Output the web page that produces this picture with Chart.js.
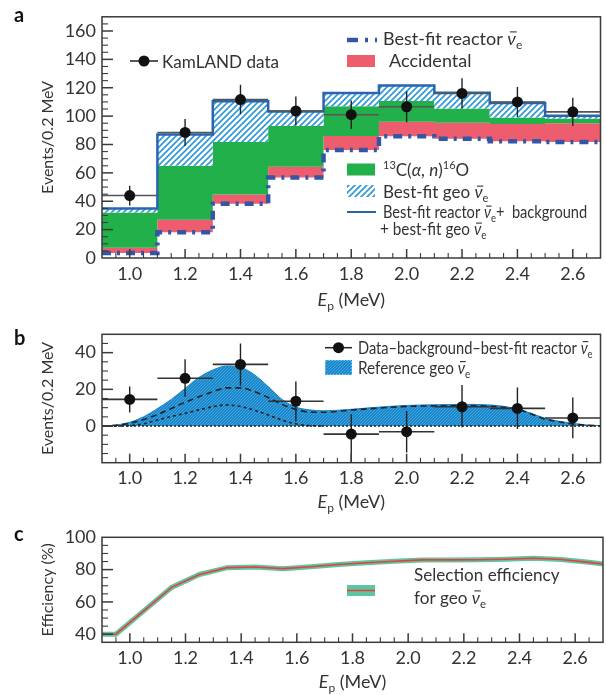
<!DOCTYPE html>
<html><head><meta charset="utf-8">
<script src="https://cdn.jsdelivr.net/npm/chart.js@4.4.1/dist/chart.umd.min.js"></script>
<style>
html,body{margin:0;padding:0;background:#fff;}
canvas{position:absolute;left:0;}
</style></head><body>
<canvas id="ca" width="606" height="318" style="top:0px"></canvas>
<canvas id="cb" width="606" height="210" style="top:310px"></canvas>
<canvas id="cc" width="606" height="175" style="top:520px"></canvas>
<script>
// ---------------- data ----------------
const X_MIN = 0.9, X_MAX = 2.7;
const xTickVals = [1.0, 1.2, 1.4, 1.6, 1.8, 2.0, 2.2, 2.4, 2.6];
const yTicksA = [0, 20, 40, 60, 80, 100, 120, 140, 160];
const yTicksB = [0, 20, 40];
const yTicksC = [40, 60, 80, 100];

// panel a: histogram bin edges and cumulative stacked levels per bin
const binEdges = [0.9, 1.1, 1.3, 1.5, 1.7, 1.9, 2.1, 2.3, 2.5, 2.7];
const reactorTop = [3.5, 18.2, 38.3, 56.8, 76.2, 85.8, 84.0, 82.2, 81.7];
const accidentalTop = [7.2, 27.0, 44.8, 64.4, 86.0, 96.0, 95.3, 94.4, 94.9];
const c13Top = [32.0, 65.0, 81.7, 93.0, 107.0, 110.6, 105.4, 99.0, 98.3];
const geoTop = [34.8, 87.0, 110.5, 103.2, 116.3, 121.5, 116.5, 109.3, 100.2];

const dataE = [1.0, 1.2, 1.4, 1.6, 1.8, 2.0, 2.2, 2.4, 2.6];
const dataEHalf = 0.1;
const kamlandData = [44, 88.5, 111.7, 103.6, 101, 106.6, 116, 110, 103];
const kamlandErr = [7, 9.5, 10.4, 10.3, 10, 11, 10.7, 10.6, 10];

// panel b
const residual = [14.5, 26, 33.6, 13.5, -4.4, -3.1, 10.5, 9.6, 4.4];
const residualErrHi = [7, 10.4, 11.4, 10.7, 10.8, 11.3, 11.9, 11.4, 11.1];
const residualErrLo = [7.2, 10, 11.6, 11.1, 16, 11.4, 11.2, 11.2, 11.1];
const geoCurveE = [0.9, 0.95, 1.0, 1.05, 1.1, 1.15, 1.2, 1.25, 1.3, 1.35, 1.4, 1.45, 1.5, 1.55, 1.6, 1.65, 1.7, 1.8, 1.9, 2.0, 2.1, 2.2, 2.3, 2.4, 2.45, 2.5, 2.55, 2.6, 2.65, 2.7];
const geoTotalCurve = [0, 0.5, 2, 5, 9.5, 14.5, 20.5, 26.5, 30.5, 32.7, 32, 28, 21.5, 14.5, 10.3, 8.8, 8.3, 9.1, 10.3, 11.2, 11.6, 11.8, 11.5, 9.3, 6.9, 4.2, 2.6, 1.5, 0.6, 0.2];
const geoUCurve = [0, 0.4, 1.5, 3.5, 6.2, 9.5, 12.9, 16, 18.7, 20.8, 20.8, 18.8, 15.5, 11.8, 9, 7.6, 7.5, 8.7, 9.8, 10.7, 11, 11.1, 10.8, 9.1, 6.6, 3.8, 2.3, 1.1, 0.4, 0.1];
const thCurveE = [0.9, 0.95, 1.0, 1.05, 1.1, 1.15, 1.2, 1.25, 1.3, 1.35, 1.4, 1.45, 1.5, 1.55, 1.6, 1.65, 1.7];
const geoThCurve = [0, 0, 0.2, 1.2, 3.3, 5.2, 6.9, 8.8, 10.5, 11.5, 10.6, 8.6, 6, 3.2, 1.2, 0.2, 0];

// panel c
const effE = [0.9, 0.95, 1.05, 1.15, 1.25, 1.35, 1.45, 1.55, 1.65, 1.75, 1.85, 1.95, 2.05, 2.15, 2.25, 2.35, 2.45, 2.55, 2.65, 2.7];
const effVals = [40, 40, 54.5, 69, 77, 81.2, 81.6, 80.6, 81.8, 83.2, 84.2, 85.2, 86, 86, 86.1, 86.4, 87, 86.3, 84.5, 83.5];

// ---------------- styling helpers ----------------
const FONT = "Lato, 'Open Sans', 'DejaVu Sans', sans-serif";
const TXT = '#333333';
const C_RED = '#ee5d6e', C_GREEN = '#22b04b', C_REACT = '#3555a5', C_TOTAL = '#2a64b0';
const C_TEAL = '#5ec4a2', C_EFFRED = '#e8413a';

function makeHatch() {
  const c = document.createElement('canvas'); c.width = 6; c.height = 6;
  const g = c.getContext('2d');
  g.fillStyle = '#ffffff'; g.fillRect(0, 0, 6, 6);
  g.strokeStyle = '#2b98d9'; g.lineWidth = 1.6;
  g.beginPath();
  g.moveTo(-1, 7); g.lineTo(7, -1);
  g.moveTo(-1, 1); g.lineTo(1, -1);
  g.moveTo(5, 7); g.lineTo(7, 5);
  g.stroke();
  return g.createPattern(c, 'repeat');
}
function makeStipple() {
  const c = document.createElement('canvas'); c.width = 3; c.height = 3;
  const g = c.getContext('2d');
  g.fillStyle = '#1887cc'; g.fillRect(0, 0, 3, 3);
  g.fillStyle = '#45a3dc'; g.fillRect(0, 0, 1, 1); g.fillRect(2, 1, 1, 1); g.fillRect(1, 2, 1, 1);
  return g.createPattern(c, 'repeat');
}
const HATCH = makeHatch();
const STIPPLE = makeStipple();

const NU = [{t: 'ν', i: 1, bar: 1}, {t: 'e', sub: 1}];
const T = s => ({t: s});

function rich(ctx, segs, x, y, size, align, sx) {
  sx = sx || 1;
  const f = s => `${s.b ? 'bold ' : ''}${s.i ? 'italic ' : ''}${(s.sub || s.sup) ? Math.round(size * 0.66) : size}px ${FONT}`;
  let w = 0;
  const ws = segs.map(s => { ctx.font = f(s); const m = ctx.measureText(s.t).width; w += m; return m; });
  ctx.save();
  ctx.translate(align === 'center' ? x - w * sx / 2 : x, 0);
  ctx.scale(sx, 1);
  let cx = 0;
  ctx.textAlign = 'left'; ctx.textBaseline = 'alphabetic'; ctx.fillStyle = TXT;
  segs.forEach((s, i) => {
    ctx.font = f(s);
    const dy = s.sub ? size * 0.24 : s.sup ? -size * 0.36 : 0;
    ctx.fillText(s.t, cx, y + dy);
    if (s.bar) {
      ctx.strokeStyle = TXT; ctx.lineWidth = 1.1;
      ctx.beginPath(); ctx.moveTo(cx + ws[i] * 0.3, y - size * 0.7); ctx.lineTo(cx + ws[i] * 1.1, y - size * 0.7); ctx.stroke();
    }
    cx += ws[i];
  });
  ctx.restore();
}

function stepData(vals) {
  return binEdges.map((e, i) => ({x: e, y: vals[Math.min(i, vals.length - 1)]}));
}
function xy(xs, ys) { return xs.map((x, i) => ({x, y: ys[i]})); }

function makeDeco(cfg) {
  const drawErrors = chart => {
    const e = cfg.errors; const ctx = chart.ctx, xs = chart.scales.x, ys = chart.scales.y, a = chart.chartArea;
    ctx.save();
    ctx.beginPath(); ctx.rect(a.left, a.top, a.right - a.left, a.bottom - a.top); ctx.clip();
    e.x.forEach((xv, i) => {
      const px = xs.getPixelForValue(xv), py = ys.getPixelForValue(e.y[i]);
      ctx.strokeStyle = e.hColor; ctx.lineWidth = 1.6;
      ctx.beginPath(); ctx.moveTo(xs.getPixelForValue(xv - e.xh), py); ctx.lineTo(xs.getPixelForValue(xv + e.xh), py); ctx.stroke();
      ctx.strokeStyle = e.vColor; ctx.lineWidth = 1.4;
      ctx.beginPath(); ctx.moveTo(px, ys.getPixelForValue(e.y[i] + e.hi[i])); ctx.lineTo(px, ys.getPixelForValue(e.y[i] - e.lo[i])); ctx.stroke();
    });
    ctx.restore();
  };
  return {
    id: 'deco',
    beforeDatasetDraw(chart, args) {
      if (cfg.errors && args.index === cfg.errors.ds) drawErrors(chart);
    },
    afterDraw(chart) {
      const ctx = chart.ctx, xs = chart.scales.x, ys = chart.scales.y, a = chart.chartArea;
      const oy = cfg.offY;
      ctx.save();
      ctx.strokeStyle = '#3a3a3a'; ctx.lineWidth = 1.5;
      ctx.strokeRect(a.left, a.top, a.right - a.left, a.bottom - a.top);
      const t = cfg.ticks;
      for (let k = Math.ceil(ys.min / t.yMinor - 1e-9); k * t.yMinor <= ys.max + 1e-9; k++) {
        const v = k * t.yMinor;
        const major = Math.abs(v / t.yMajor - Math.round(v / t.yMajor)) < 1e-6;
        const py = ys.getPixelForValue(v);
        if (py <= a.top + 1 || py >= a.bottom - 1) continue;
        ctx.lineWidth = major ? 1.5 : 1.1;
        ctx.beginPath(); ctx.moveTo(a.left, py); ctx.lineTo(a.left + (major ? 11 : 6), py); ctx.stroke();
      }
      for (let k = Math.ceil(xs.min / t.xMinor - 1e-9); k * t.xMinor <= xs.max + 1e-9; k++) {
        const v = k * t.xMinor;
        const major = Math.abs(v / t.xMajor - Math.round(v / t.xMajor)) < 1e-6;
        const px = xs.getPixelForValue(v);
        if (px <= a.left + 1 || px >= a.right - 1) continue;
        ctx.lineWidth = major ? 1.5 : 1.1;
        ctx.beginPath(); ctx.moveTo(px, a.bottom); ctx.lineTo(px, a.bottom - (major ? 9 : 5)); ctx.stroke();
      }
      ctx.fillStyle = '#111'; ctx.font = `bold 20px ${FONT}`; ctx.textAlign = 'left'; ctx.textBaseline = 'alphabetic';
      ctx.fillText(cfg.letter.t, cfg.letter.x, cfg.letter.y - oy);
      rich(ctx, cfg.xTitle.segs, (a.left + a.right) / 2, cfg.xTitle.y - oy, 18, 'center');
      (cfg.legend || []).forEach(it => {
        const y = it.y - oy;
        if (it.kind === 'text') { rich(ctx, it.segs, it.x, y, it.size, 'left', it.sx); }
        else if (it.kind === 'pointline') {
          ctx.strokeStyle = '#222'; ctx.lineWidth = 1.5; ctx.setLineDash([]);
          ctx.beginPath(); ctx.moveTo(it.x1, y); ctx.lineTo(it.x2, y); ctx.stroke();
          ctx.fillStyle = '#111'; ctx.beginPath(); ctx.arc(it.dx, y, 5.5, 0, Math.PI * 2); ctx.fill();
        } else if (it.kind === 'line') {
          ctx.strokeStyle = it.color; ctx.lineWidth = it.width; ctx.setLineDash(it.dash || []);
          ctx.beginPath(); ctx.moveTo(it.x1, y); ctx.lineTo(it.x2, y); ctx.stroke(); ctx.setLineDash([]);
        } else if (it.kind === 'box') {
          ctx.fillStyle = it.fill; ctx.fillRect(it.x, y, it.w, it.h);
          if (it.border) { ctx.strokeStyle = it.border; ctx.lineWidth = 1; ctx.setLineDash([1.5, 1.5]); ctx.strokeRect(it.x + 0.5, y + 0.5, it.w - 1, it.h - 1); ctx.setLineDash([]); }
          if (it.mid) { ctx.strokeStyle = it.mid; ctx.lineWidth = 1.5; ctx.beginPath(); ctx.moveTo(it.x, y + it.h / 2); ctx.lineTo(it.x + it.w, y + it.h / 2); ctx.stroke(); }
        }
      });
      ctx.restore();
    }
  };
}

function axes(cfg) {
  return {
    x: {
      type: 'linear', min: X_MIN, max: X_MAX,
      grid: {display: false, drawTicks: false}, border: {display: false},
      ticks: {padding: 5, color: TXT, font: {family: FONT, size: 18}, maxRotation: 0, autoSkip: false,
        callback: v => Number(v).toFixed(1)},
      afterBuildTicks: s => { s.ticks = xTickVals.map(v => ({value: v})); },
      afterFit: s => { s.height = cfg.xh; }
    },
    y: {
      type: 'linear', min: cfg.ymin, max: cfg.ymax,
      grid: {display: false, drawTicks: false}, border: {display: false},
      ticks: {padding: 6, color: TXT, font: {family: FONT, size: 18}, autoSkip: false,
        callback: v => String(v)},
      afterBuildTicks: s => { s.ticks = cfg.yticks.map(v => ({value: v})); },
      afterFit: s => { s.width = 102; },
      title: {display: true, text: cfg.ytitle, color: TXT, font: {family: FONT, size: 16}, padding: {top: 38, bottom: 0}}
    }
  };
}

const baseOpts = (padTop, scales) => ({
  responsive: false, maintainAspectRatio: false, animation: false,
  layout: {padding: {top: padTop, right: 3, left: 0, bottom: 0}},
  plugins: {legend: {display: false}, tooltip: {enabled: false}},
  scales
});

const XTITLE = [{t: 'E', i: 1}, {t: 'p', sub: 1}, T(' (MeV)')];

// ---------------- panel a ----------------
new Chart(document.getElementById('ca'), {
  type: 'line',
  data: {datasets: [
    {data: stepData(reactorTop), stepped: 'before', borderColor: C_REACT, borderWidth: 4.5, borderDash: [9, 6, 3, 6], pointRadius: 0, fill: false, order: 1},
    {data: stepData(accidentalTop), stepped: 'before', borderColor: 'rgba(0,0,0,0)', borderWidth: 1, backgroundColor: C_RED, pointRadius: 0, fill: '-1', order: 4},
    {data: stepData(c13Top), stepped: 'before', borderColor: 'rgba(0,0,0,0)', borderWidth: 1, backgroundColor: C_GREEN, pointRadius: 0, fill: '-1', order: 3},
    {data: stepData(geoTop), stepped: 'before', borderColor: C_TOTAL, borderWidth: 2.5, backgroundColor: HATCH, pointRadius: 0, fill: '-1', order: 2},
    {data: xy(dataE, kamlandData), showLine: false, pointRadius: 5.5, pointBackgroundColor: '#111', pointBorderWidth: 0, order: 0}
  ]},
  options: baseOpts(13, axes({xh: 60, ymin: 0, ymax: 170, yticks: yTicksA, ytitle: 'Events/0.2 MeV'})),
  plugins: [makeDeco({
    offY: 0,
    ticks: {yMinor: 5, yMajor: 20, xMinor: 0.05, xMajor: 0.2},
    errors: {ds: 4, x: dataE, y: kamlandData, lo: kamlandErr, hi: kamlandErr, xh: dataEHalf, hColor: '#555', vColor: '#222'},
    letter: {t: 'a', x: 14, y: 22},
    xTitle: {segs: XTITLE, y: 306},
    legend: [
      {kind: 'pointline', x1: 130, x2: 158, dx: 144, y: 61},
      {kind: 'text', x: 162, y: 68, size: 18, sx: 0.95, segs: [T('KamLAND data')]},
      {kind: 'line', x1: 347, x2: 377, y: 40, color: C_REACT, width: 4.5, dash: [11, 7, 3, 7]},
      {kind: 'text', x: 383, y: 44.5, size: 18, segs: [T('Best-fit reactor '), ...NU]},
      {kind: 'box', x: 347, y: 55, w: 28, h: 12, fill: C_RED},
      {kind: 'text', x: 389, y: 66.5, size: 18, segs: [T('Accidental')]},
      {kind: 'box', x: 347, y: 163.5, w: 28, h: 12, fill: C_GREEN},
      {kind: 'text', x: 383, y: 175.5, size: 17, segs: [{t: '13', sup: 1}, T('C('), {t: 'α', i: 1}, T(', '), {t: 'n', i: 1}, T(')'), {t: '16', sup: 1}, T('O')]},
      {kind: 'box', x: 347, y: 185, w: 28, h: 12, fill: HATCH},
      {kind: 'text', x: 383, y: 198, size: 17, segs: [T('Best-fit geo '), ...NU]},
      {kind: 'line', x1: 347, x2: 376, y: 212, color: C_TOTAL, width: 2},
      {kind: 'text', x: 383, y: 218, size: 17, sx: 0.86, segs: [T('Best-fit reactor '), ...NU, T('+  background')]},
      {kind: 'text', x: 380, y: 235, size: 17, sx: 0.9, segs: [T('+ best-fit geo '), ...NU]}
    ]
  })]
});

// ---------------- panel b ----------------
new Chart(document.getElementById('cb'), {
  type: 'line',
  data: {datasets: [
    {data: xy(dataE, residual), showLine: false, pointRadius: 5.5, pointBackgroundColor: '#111', pointBorderWidth: 0, order: 0},
    {data: xy(thCurveE, geoThCurve), borderColor: '#222', borderWidth: 1.6, borderDash: [3, 3], cubicInterpolationMode: 'monotone', pointRadius: 0, fill: false, order: 2},
    {data: xy(geoCurveE, geoUCurve), borderColor: '#222', borderWidth: 1.6, borderDash: [6, 4], cubicInterpolationMode: 'monotone', pointRadius: 0, fill: false, order: 1},
    {data: [{x: X_MIN, y: 0}, {x: X_MAX, y: 0}], borderColor: '#222', borderWidth: 1.5, borderDash: [2, 2], pointRadius: 0, fill: false, order: 3},
    {data: xy(geoCurveE, geoTotalCurve), borderColor: '#1a86cb', borderWidth: 1, backgroundColor: STIPPLE, cubicInterpolationMode: 'monotone', pointRadius: 0, fill: 'origin', order: 4}
  ]},
  options: baseOpts(24.3, axes({xh: 57.3, ymin: -20, ymax: 50, yticks: yTicksB, ytitle: 'Events/0.2 MeV'})),
  plugins: [makeDeco({
    offY: 310,
    ticks: {yMinor: 5, yMajor: 20, xMinor: 0.05, xMajor: 0.2},
    errors: {ds: 0, x: dataE, y: residual, lo: residualErrLo, hi: residualErrHi, xh: dataEHalf, hColor: '#333', vColor: '#222'},
    letter: {t: 'b', x: 14, y: 345},
    xTitle: {segs: XTITLE, y: 508},
    legend: [
      {kind: 'pointline', x1: 325, x2: 352, dx: 338.5, y: 347.7},
      {kind: 'text', x: 358, y: 353.5, size: 17, sx: 0.86, segs: [T('Data–background–best-fit reactor '), ...NU]},
      {kind: 'box', x: 325, y: 360, w: 27, h: 15, fill: STIPPLE, border: '#7cc3ee'},
      {kind: 'text', x: 358, y: 373.5, size: 17, sx: 0.9, segs: [T('Reference geo '), ...NU]}
    ]
  })]
});

// ---------------- panel c ----------------
new Chart(document.getElementById('cc'), {
  type: 'line',
  data: {datasets: [
    {data: xy(effE, effVals), borderColor: C_EFFRED, borderWidth: 1.6, pointRadius: 0, fill: false, order: 0},
    {data: xy(effE, effVals), borderColor: C_TEAL, borderWidth: 5, pointRadius: 0, fill: false, order: 1}
  ]},
  options: baseOpts(17.3, axes({xh: 52.7, ymin: 35, ymax: 100, yticks: yTicksC, ytitle: 'Efficiency (%)'})),
  plugins: [makeDeco({
    offY: 520,
    ticks: {yMinor: 5, yMajor: 20, xMinor: 0.05, xMajor: 0.2},
    letter: {t: 'c', x: 14, y: 541},
    xTitle: {segs: XTITLE, y: 688},
    legend: [
      {kind: 'box', x: 347, y: 585, w: 28, h: 11, fill: C_TEAL, mid: C_EFFRED},
      {kind: 'text', x: 414, y: 581, size: 18, sx: 0.95, segs: [T('Selection efficiency')]},
      {kind: 'text', x: 414, y: 603.5, size: 18, sx: 0.95, segs: [T('for geo '), ...NU]}
    ]
  })]
});
</script>
</body></html>
